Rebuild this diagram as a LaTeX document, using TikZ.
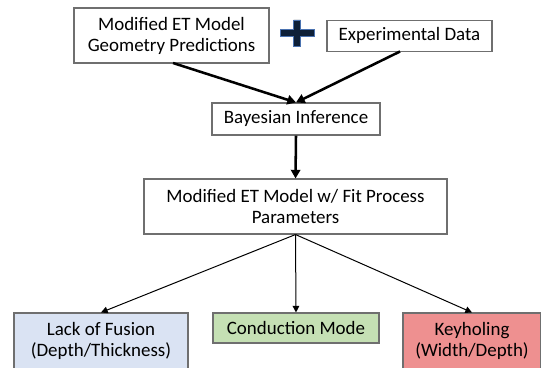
\documentclass[tikz,border=0pt]{standalone}
\usepackage{fontspec}
\setmainfont{Carlito}
\usetikzlibrary{arrows.meta}
\definecolor{bordergray}{HTML}{6F6F6F}
\definecolor{lofblue}{HTML}{DAE3F3}
\definecolor{condgreen}{HTML}{C5E0B4}
\definecolor{keyred}{HTML}{EE9090}
\definecolor{plusnavy}{HTML}{0E2038}
\definecolor{plusedge}{HTML}{4A72B0}
\begin{document}
\begin{tikzpicture}[x=0.75pt,y=-0.75pt,
  box/.style={draw=bordergray, line width=0.8pt, fill=white, align=center, inner sep=0pt,
    font=\fontsize{14.2}{15.8}\selectfont},
  thick arrow/.style={line width=1.9pt, -{Triangle[length=6.5pt,width=7pt]}},
  thin arrow/.style={line width=0.75pt, -{Triangle[length=5pt,width=5pt]}}]
\clip (0,0) rectangle (541,367);
\useasboundingbox (0,0) rectangle (541,367);
\node[box, minimum width=195*0.75pt, minimum height=55*0.75pt] (model) at (171.5,35.5) {Modified ET Model\\Geometry Predictions};
\node[box, minimum width=165*0.75pt, minimum height=31*0.75pt] (exp) at (409.5,35.75) {Experimental Data};
\node[box, minimum width=168*0.75pt, minimum height=32*0.75pt] (bayes) at (296,119) {Bayesian Inference};
\node[box, minimum width=303*0.75pt, minimum height=55*0.75pt] (fit) at (295.5,206.5) {Modified ET Model w/ Fit Process\\Parameters};
\node[box, fill=lofblue, minimum width=174*0.75pt, minimum height=56*0.75pt] (lof) at (101,341) {Lack of Fusion\\(Depth/Thickness)};
\node[box, fill=condgreen, minimum width=166*0.75pt, minimum height=30*0.75pt] (cond) at (296,328) {Conduction Mode};
\node[box, fill=keyred, minimum width=138*0.75pt, minimum height=56*0.75pt] (key) at (472,341) {Keyholing\\(Width/Depth)};
% plus sign
\draw[fill=plusnavy, draw=plusedge, line width=0.5pt]
  (280,29.5) -- (293.5,29.5) -- (293.5,20) -- (300.5,20) -- (300.5,29.5) -- (314,29.5)
  -- (314,36.5) -- (300.5,36.5) -- (300.5,46) -- (293.5,46) -- (293.5,36.5) -- (280,36.5) -- cycle;
% connectors
\coordinate (mstart) at (173,63);
\coordinate (estart) at (400,51.5);
\draw[thick arrow] (mstart) -- (bayes.north);
\draw[thick arrow] (estart) -- (bayes.north);
\draw[thick arrow] (bayes.south) -- (fit.north);
\draw[thin arrow] (fit.south) -- (lof.north);
\draw[thin arrow] (fit.south) -- (cond.north);
\draw[thin arrow] (fit.south) -- (key.north);
\end{tikzpicture}
\end{document}
